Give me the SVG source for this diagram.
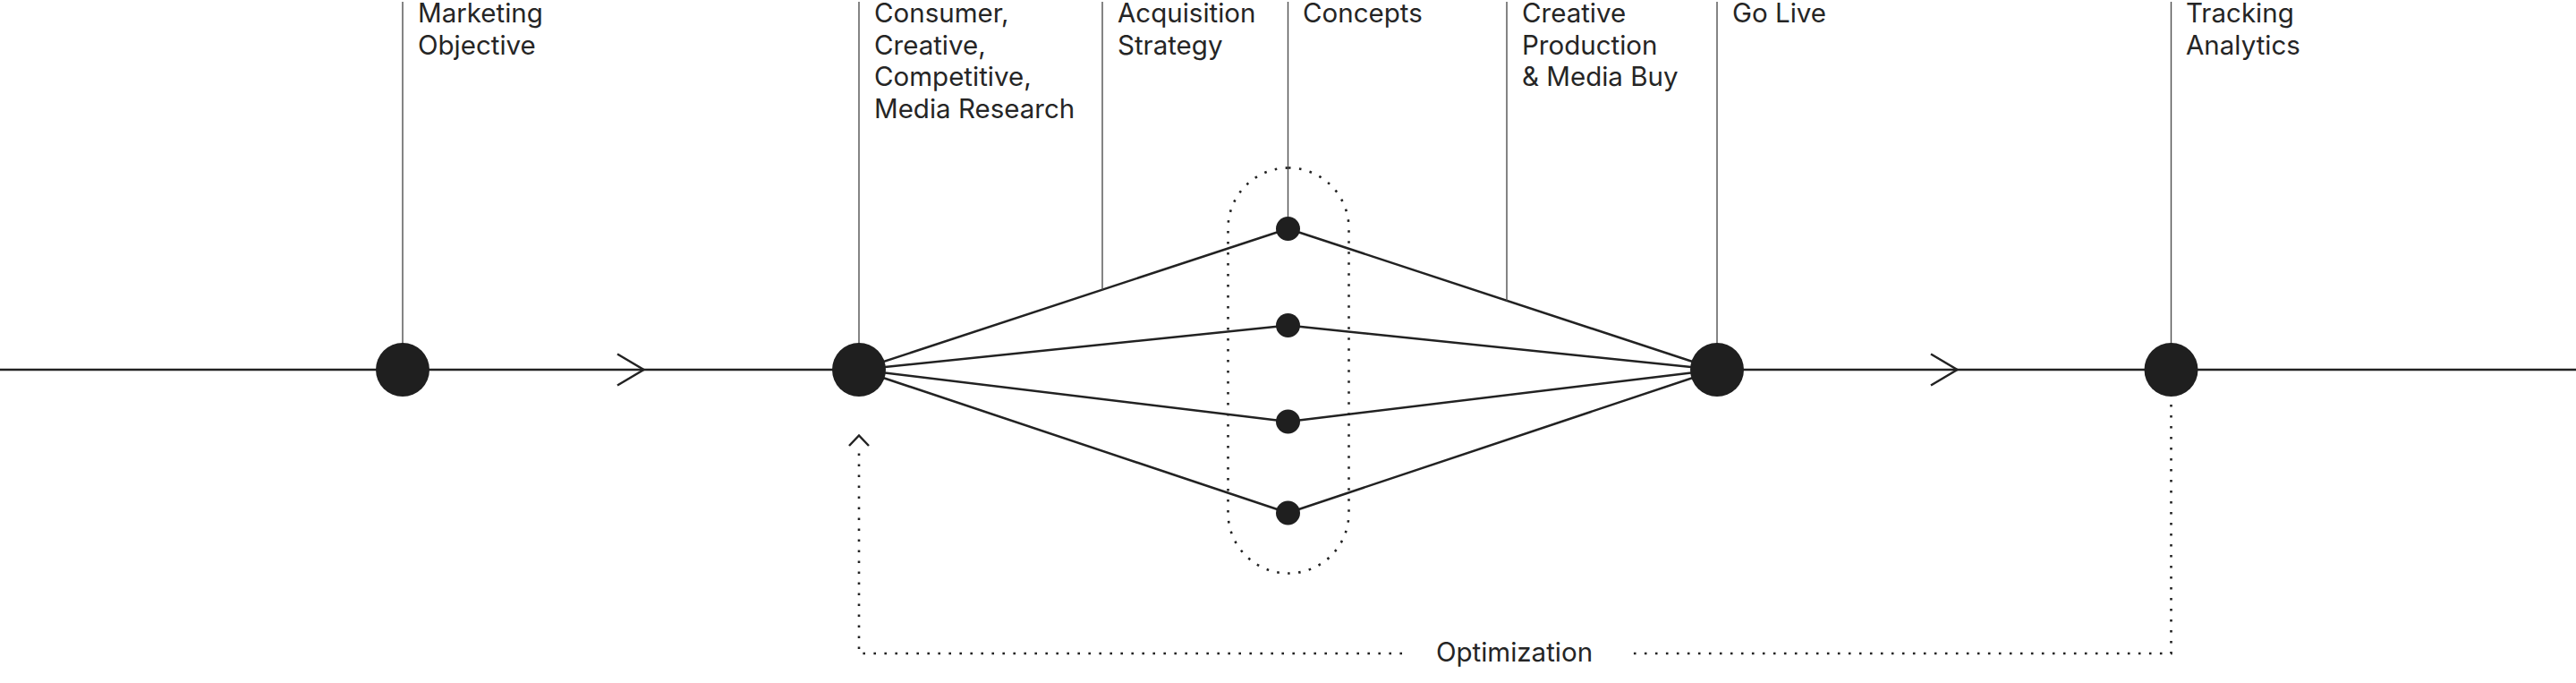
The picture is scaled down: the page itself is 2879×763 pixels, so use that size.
<svg xmlns="http://www.w3.org/2000/svg" width="2879" height="763" viewBox="0 0 2879 763">
<style>
.bg{fill:#ffffff}
.lbl{font-family:Inter,"Liberation Sans",sans-serif;font-size:29.5px;fill:#252525}
.tick{stroke:#505050;stroke-width:1.4;fill:none}
.main{stroke:#222222;stroke-width:2.5;fill:none}
.dot{stroke:#222222;stroke-width:2.6;fill:none;stroke-dasharray:2.6 9.4}
.big{fill:#1f1f1f}
.small{fill:#1f1f1f}
</style>
<rect class="bg" x="0" y="0" width="2879" height="763"/>
<g id="connectors">
  <line class="main" x1="0" y1="413" x2="960" y2="413"/>
  <line class="main" x1="1919" y1="413" x2="2879" y2="413"/>
  <path class="main" d="M690,395.5 L719.5,413 L690,430.5"/>
  <path class="main" d="M2158,395.5 L2187.5,413 L2158,430.5"/>
  <line class="main" x1="960" y1="413" x2="1439.5" y2="255.5"/>
  <line class="main" x1="960" y1="413" x2="1439.5" y2="363.5"/>
  <line class="main" x1="960" y1="413" x2="1439.5" y2="471"/>
  <line class="main" x1="960" y1="413" x2="1439.5" y2="573"/>
  <line class="main" x1="1439.5" y1="255.5" x2="1919" y2="413"/>
  <line class="main" x1="1439.5" y1="363.5" x2="1919" y2="413"/>
  <line class="main" x1="1439.5" y1="471" x2="1919" y2="413"/>
  <line class="main" x1="1439.5" y1="573" x2="1919" y2="413"/>
  <line class="tick" x1="450" y1="2" x2="450" y2="390"/>
  <line class="tick" x1="960" y1="2" x2="960" y2="390"/>
  <line class="tick" x1="1232" y1="2" x2="1232" y2="323.5"/>
  <line class="tick" x1="1439.5" y1="2" x2="1439.5" y2="250"/>
  <line class="tick" x1="1684" y1="2" x2="1684" y2="336"/>
  <line class="tick" x1="1919" y1="2" x2="1919" y2="390"/>
  <line class="tick" x1="2426.5" y1="2" x2="2426.5" y2="390"/>
  <rect class="dot" x="1372.5" y="187.5" width="135" height="453" rx="67.5"/>
  <path class="dot" d="M2426.5,452 V730 H1818"/>
  <path class="dot" d="M1567,730 H960 V498"/>
  <path class="main" d="M949,498 L960,486.5 L971,498"/>
</g>
<g id="marketing-objective">
  <circle class="big" cx="450" cy="413" r="30"/>
  <text class="lbl" x="467" y="25">Marketing</text>
  <text class="lbl" x="467" y="60.5">Objective</text>
</g>
<g id="research">
  <circle class="big" cx="960" cy="413" r="30"/>
  <text class="lbl" x="977" y="25">Consumer,</text>
  <text class="lbl" x="977" y="60.5">Creative,</text>
  <text class="lbl" x="977" y="96">Competitive,</text>
  <text class="lbl" x="977" y="131.5">Media Research</text>
</g>
<g id="acquisition-strategy">
  <text class="lbl" x="1249" y="25">Acquisition</text>
  <text class="lbl" x="1249" y="60.5">Strategy</text>
</g>
<g id="concepts">
  <circle class="small" cx="1439.5" cy="255.5" r="13.5"/>
  <circle class="small" cx="1439.5" cy="363.5" r="13.5"/>
  <circle class="small" cx="1439.5" cy="471" r="13.5"/>
  <circle class="small" cx="1439.5" cy="573" r="13.5"/>
  <text class="lbl" x="1456" y="25">Concepts</text>
</g>
<g id="creative-production">
  <text class="lbl" x="1701" y="25">Creative</text>
  <text class="lbl" x="1701" y="60.5">Production</text>
  <text class="lbl" x="1701" y="96">&amp; Media Buy</text>
</g>
<g id="go-live">
  <circle class="big" cx="1919" cy="413" r="30"/>
  <text class="lbl" x="1936" y="25">Go Live</text>
</g>
<g id="tracking-analytics">
  <circle class="big" cx="2426.5" cy="413" r="30"/>
  <text class="lbl" x="2443" y="25">Tracking</text>
  <text class="lbl" x="2443" y="60.5">Analytics</text>
</g>
<g id="optimization">
  <text class="lbl" x="1692.5" y="739" text-anchor="middle">Optimization</text>
</g>
</svg>
